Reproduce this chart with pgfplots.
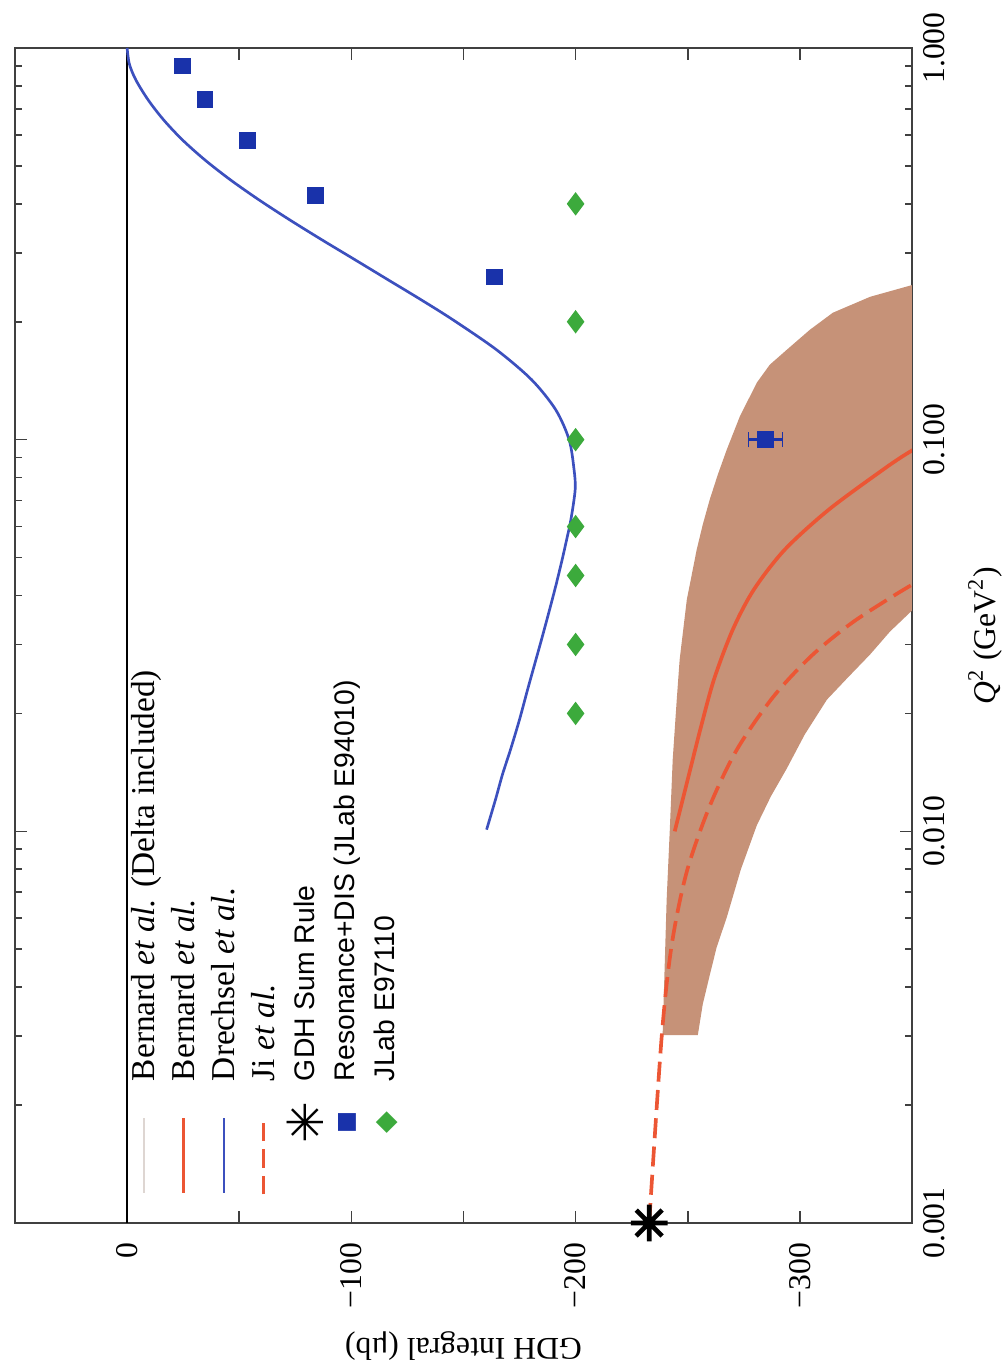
\documentclass[border=0pt]{standalone}
\usepackage{fontspec}
\setmainfont{Liberation Serif}
\setsansfont{Liberation Sans}
\newfontfamily\symfont{DejaVu Sans}
\usepackage{pgfplots}
\pgfplotsset{compat=1.18}
\definecolor{bandc}{RGB}{198,146,120}
\definecolor{redl}{RGB}{236,86,52}
\definecolor{bluel}{RGB}{60,80,190}
\definecolor{blues}{RGB}{25,50,170}
\definecolor{greend}{RGB}{60,170,60}
\definecolor{faint}{RGB}{222,214,210}
\pgfdeclareplotmark{octstar}{%
  \pgfpathmoveto{\pgfqpoint{-\pgfplotmarksize}{0pt}}\pgfpathlineto{\pgfqpoint{\pgfplotmarksize}{0pt}}%
  \pgfpathmoveto{\pgfqpoint{0pt}{-\pgfplotmarksize}}\pgfpathlineto{\pgfqpoint{0pt}{\pgfplotmarksize}}%
  \pgfpathmoveto{\pgfqpointpolar{45}{\pgfplotmarksize}}\pgfpathlineto{\pgfqpointpolar{225}{\pgfplotmarksize}}%
  \pgfpathmoveto{\pgfqpointpolar{135}{\pgfplotmarksize}}\pgfpathlineto{\pgfqpointpolar{315}{\pgfplotmarksize}}%
  \pgfusepathqstroke}
\newcommand{\legline}[2]{\textcolor{#1}{\rule[2.8pt]{22.5pt}{#2}}}
\newcommand{\legdash}{\textcolor{redl}{\rule[2.8pt]{5.5pt}{1.1pt}\hspace{2.5pt}\rule[2.8pt]{5.5pt}{1.1pt}\hspace{2.5pt}\rule[2.8pt]{5.5pt}{1.1pt}\hspace{1.5pt}}}
\newcommand{\legmark}[3]{\makebox[22.5pt][r]{\makebox[3pt]{\raisebox{#3}{\textcolor{#1}{\symfont #2}}}}}
\newcommand{\serifleg}{\fontsize{10}{12}\selectfont}
\begin{document}
\begin{tikzpicture}
\begin{axis}[name=ax, scale only axis, width=269.1pt, height=352.5pt,
  xmin=-350, xmax=50, x dir=reverse,
  ymode=log, ymin=0.001, ymax=1,
  axis line style={black!75, line width=0.6pt},
  every tick/.style={black!75, line width=0.5pt},
  tick align=inside, major tick length=3.5pt, minor tick length=2pt,
  xtick={-300,-250,-200,-150,-100,-50,0},
  xticklabels={−300,,−200,,−100,,0},
  ytick={0.001,0.01,0.1,1},
  yticklabels={0.001,0.010,0.100,1.000},
  minor ytick={0.002,0.003,0.004,0.005,0.006,0.007,0.008,0.009,0.02,0.03,0.04,0.05,0.06,0.07,0.08,0.09,0.2,0.3,0.4,0.5,0.6,0.7,0.8,0.9},
  xticklabel pos=lower, yticklabel pos=right,
  xtick pos=both, ytick pos=both,
  xticklabel shift=2.5pt,
  xticklabel style={rotate=90, anchor=east, font=\fontsize{9.5}{10}\selectfont},
  yticklabel style={rotate=90, anchor=north, font=\fontsize{9.5}{10}\selectfont},
  xlabel={GDH Integral (μb)},
  xlabel style={rotate=180, anchor=south, font=\fontsize{9.5}{11}\selectfont},
  ylabel={\textit{Q}\textsuperscript{2} (GeV\textsuperscript{2})},
  ylabel style={at={(ticklabel cs:0.5)}, anchor=north, rotate=0, font=\fontsize{9.5}{11}\selectfont},
]
% Bernard et al. band
\addplot[fill=bandc, draw=none] coordinates {
 (-238.8,0.00302) (-239.7,0.0045) (-240.6,0.0067) (-242.0,0.0101) (-243.3,0.01526)
 (-245.1,0.0217) (-246.4,0.02747) (-249.6,0.0391) (-251.8,0.04524) (-254.0,0.0524)
 (-256.7,0.0607) (-259.8,0.0703) (-263.4,0.0814) (-267.4,0.0943) (-273.2,0.1145)
 (-280.8,0.1398) (-286.6,0.1554) (-294.2,0.1697) (-304.5,0.1909) (-314.7,0.2109)
 (-331.3,0.2316) (-350.4,0.2485) (-367,0.259)
 (-375,0.259) (-375,0.04) (-360,0.04)
 (-350.4,0.0368) (-340.2,0.03237) (-331.3,0.02828) (-321.4,0.0247) (-312.1,0.0217)
 (-302.2,0.01768) (-294.2,0.01448) (-287.1,0.01229) (-280.8,0.01036) (-273.7,0.0080)
 (-267.4,0.00603) (-262.9,0.00506) (-259.8,0.00429) (-256.7,0.00362) (-254.5,0.00302)
 (-238.8,0.00302)};
% zero line
\addplot[black, line width=0.4pt] coordinates {(0,0.001) (0,1)};
% Bernard et al.
\addplot[redl, line width=1.1pt, smooth] coordinates {
 (-244.2,0.0100) (-250.0,0.01357) (-255.6,0.01820) (-261.7,0.02442) (-270.1,0.03276)
 (-279.5,0.04144) (-293.3,0.05241) (-312.9,0.06628) (-337.1,0.08385) (-348.4,0.09264)
 (-362.5,0.103)};
% Ji et al.
\addplot[redl, line width=1.1pt, dash pattern=on 6pt off 2.5pt, smooth] coordinates {
 (-232.8,0.001) (-238.4,0.003) (-242.9,0.00515) (-249.6,0.0079) (-259.8,0.0116)
 (-272,0.0162) (-288,0.0220) (-305,0.0280) (-323,0.0340) (-342,0.0400) (-357,0.045)};
% Drechsel et al.
\addplot[bluel, line width=0.8pt, smooth] coordinates {
 (-160.3,0.0101) (-164.3,0.01207) (-167.4,0.01398) (-171.0,0.01619) (-175.0,0.01931)
 (-178.6,0.02303) (-181.7,0.02667) (-184.8,0.03089) (-188.4,0.03683) (-191.3,0.04266)
 (-194.0,0.04942) (-196.0,0.05557) (-197.9,0.06249) (-199.8,0.0746) (-199.3,0.0839)
 (-197.1,0.100) (-191.1,0.1193) (-180.4,0.1422) (-164.7,0.1697) (-145.3,0.2023)
 (-131.1,0.2276) (-116.4,0.2559) (-101.7,0.2878) (-86.9,0.3237) (-72.5,0.3641)
 (-58.8,0.4095) (-46.1,0.4605) (-34.7,0.5178) (-24.7,0.5824) (-16.3,0.6551)
 (-9.4,0.7368) (-3.9,0.8287) (-1.0,0.9102) (0,1.0)};
% JLab E97110
\addplot[only marks, mark=diamond*, mark size=3.2pt, greend] coordinates {
 (-200,0.02) (-200,0.03) (-200,0.045) (-200,0.06) (-200,0.1) (-200,0.2) (-200,0.4)};
% Resonance+DIS (JLab E94010)
\addplot[only marks, mark=square*, mark size=2.3pt, blues] coordinates {
 (-24.6,0.9) (-34.8,0.74) (-53.6,0.58) (-83.9,0.42) (-163.8,0.26)};
\addplot[only marks, mark=square*, mark size=2.3pt, blues,
  error bars/.cd, x dir=both, x explicit, error bar style={line width=0.7pt}]
  coordinates {(-284.8,0.1) +- (7.6,0)};
% GDH sum rule
\addplot[only marks, mark=octstar, mark size=5.5pt, line width=1.4pt, black]
  coordinates {(-232.8,0.001)};
\end{axis}
% legend (rotated with the figure)
\node[rotate=90, anchor=north west, inner sep=0pt, font=\fontsize{8.5}{12}\selectfont]
  at ([shift={(33.3pt,8.4pt)}]ax.south west) {%
  \begin{tabular}{@{}r@{\hspace{11pt}}l@{}}
  \legline{faint}{0.8pt} & \serifleg Bernard \textit{et al.} (Delta included)\\
  \legline{redl}{1.1pt} & \serifleg Bernard \textit{et al.}\\
  \legline{bluel}{0.8pt} & \serifleg Drechsel \textit{et al.}\\
  \legdash & \serifleg Ji \textit{et al.}\\
  \legmark{black}{\fontsize{15}{15}\selectfont ✳}{-2.6pt} & \sffamily GDH Sum Rule\\
  \legmark{blues}{\fontsize{7}{7}\selectfont ■}{0.4pt} & \sffamily Resonance+DIS (JLab E94010)\\
  \legmark{greend}{\fontsize{8.5}{8.5}\selectfont ◆}{0pt} & \sffamily JLab E97110
  \end{tabular}};
\pgfresetboundingbox
\path ([shift={(-4.5pt,-44.7pt)}]ax.south west) rectangle ([shift={(26.7pt,14.4pt)}]ax.north east);
\end{tikzpicture}
\end{document}
